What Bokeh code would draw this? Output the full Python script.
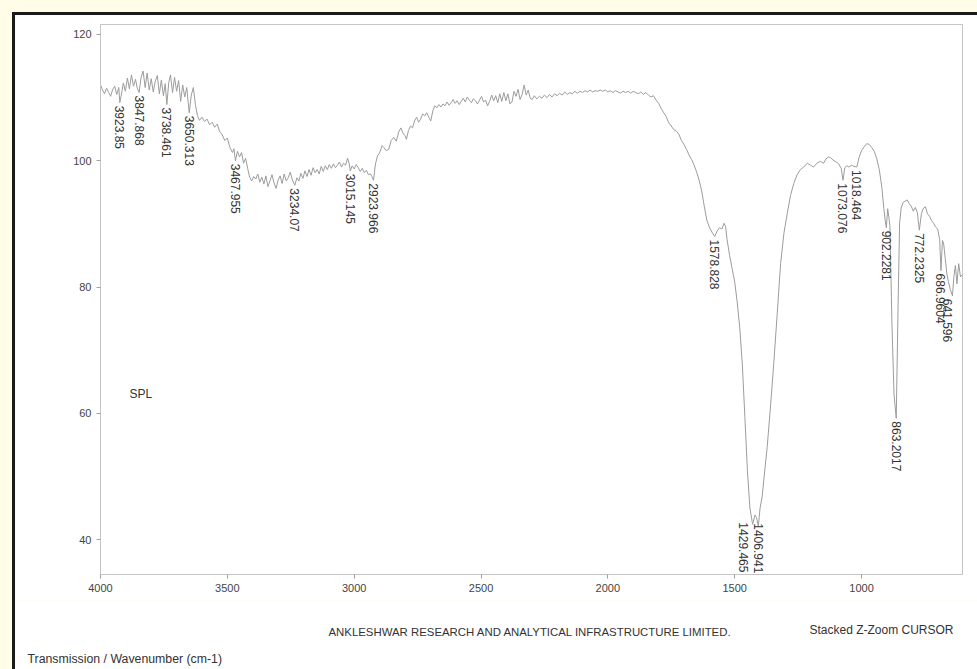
import math
from bokeh.plotting import figure
from bokeh.layouts import column
from bokeh.models import Range1d, FixedTicker, Label, ColumnDataSource
from bokeh.embed import file_html
from bokeh.resources import INLINE
from bokeh.core.properties import value

# ---------------- data ----------------
wavenumber = [
    4000, 3992, 3984, 3976, 3968, 3960, 3952, 3944, 3936, 3928, 3923.85, 3918, 3910, 3902, 3894,
    3886, 3878, 3870, 3862, 3855, 3847.868, 3840, 3832, 3824, 3816, 3808, 3800, 3792, 3784, 3776,
    3768, 3760, 3752, 3745, 3738.461, 3731, 3724, 3716, 3708, 3700, 3692, 3684, 3676, 3668, 3660,
    3650.313, 3642, 3634, 3626, 3618, 3610, 3600, 3590, 3580, 3570, 3560, 3550, 3540, 3530, 3520,
    3510, 3500, 3490, 3480, 3474, 3467.955, 3460, 3452, 3444, 3436, 3428, 3420, 3412, 3404, 3396,
    3388, 3380, 3372, 3364, 3356, 3348, 3340, 3332, 3324, 3316, 3308, 3300, 3292, 3284, 3276,
    3268, 3260, 3252, 3244, 3234.07, 3226, 3218, 3210, 3202, 3194, 3186, 3178, 3170, 3162, 3154,
    3146, 3138, 3130, 3122, 3114, 3106, 3098, 3090, 3082, 3074, 3066, 3058, 3050, 3042, 3034,
    3026, 3020, 3015.145, 3008, 3000, 2992, 2984, 2976, 2968, 2960, 2952, 2944, 2936, 2930, 2923.966,
    2916, 2908, 2900, 2890, 2883, 2874, 2864, 2854, 2844, 2834, 2824, 2816, 2808, 2800, 2794,
    2786, 2778, 2770, 2762, 2754, 2746, 2738, 2730, 2722, 2714, 2706, 2698, 2690, 2682, 2674,
    2666, 2658, 2650, 2642, 2634, 2626, 2618, 2610, 2602, 2594, 2586, 2578, 2570, 2562, 2554,
    2546, 2538, 2530, 2522, 2514, 2506, 2498, 2490, 2482, 2474, 2466, 2458, 2450, 2442, 2434,
    2426, 2418, 2410, 2402, 2394, 2386, 2378, 2370, 2362, 2354, 2346, 2338, 2330, 2322, 2314,
    2306, 2298, 2290, 2280, 2270, 2260, 2250, 2240, 2230, 2220, 2210, 2200, 2190, 2180, 2170,
    2160, 2150, 2140, 2130, 2120, 2110, 2100, 2090, 2080, 2070, 2060, 2050, 2040, 2030, 2020,
    2010, 2000, 1990, 1980, 1970, 1960, 1950, 1940, 1930, 1920, 1910, 1900, 1890, 1880, 1870,
    1860, 1850, 1840, 1830, 1820, 1810, 1800, 1790, 1780, 1770, 1760, 1750, 1740, 1730, 1720,
    1710, 1700, 1690, 1680, 1670, 1660, 1650, 1640, 1630, 1620, 1610, 1600, 1590, 1578.828, 1570,
    1560, 1550, 1542, 1536, 1530, 1520, 1510, 1500, 1490, 1480, 1470, 1460, 1450, 1440, 1429.465,
    1420, 1414, 1406.941, 1400, 1392, 1380, 1372, 1360, 1346, 1332, 1319, 1306, 1293, 1280, 1267,
    1254, 1241, 1228, 1214, 1202, 1189, 1176, 1162, 1150, 1140, 1130, 1122, 1112, 1100, 1090,
    1080, 1073.076, 1066, 1058, 1050, 1040, 1030, 1018.464, 1010, 1000, 990, 980, 970, 960, 950,
    940, 930, 920, 912, 906, 902.2281, 897, 892, 888, 880, 872, 863.2017, 856, 850, 844,
    836, 828, 820, 812, 804, 796, 788, 780, 772.2325, 764, 756, 748, 740, 732, 724,
    716, 708, 700, 692, 686.9604, 681, 676, 670, 664, 658, 650, 641.596, 636, 630, 624,
    617, 610, 602,
]
transmission = [
    112.0, 111.2, 110.6, 111.5, 110.8, 110.2, 111.3, 111.8, 110.5, 111.6, 109.2, 110.4, 112.3, 111.0, 113.1,
    111.4, 113.6, 111.8, 112.9, 111.5, 110.8, 113.2, 114.2, 111.6, 113.9, 111.2, 113.0, 110.9, 112.6, 113.5,
    110.6, 112.8, 110.3, 112.2, 108.9, 112.4, 113.6, 110.8, 113.2, 111.0, 112.7, 109.4, 112.0, 110.1, 111.6,
    107.6, 110.4, 111.6, 108.9, 107.2, 106.4, 106.9, 106.2, 106.6, 105.7, 106.1, 105.3, 105.8, 104.6, 104.1,
    103.2, 103.6, 102.1, 101.3, 101.9, 100.0, 101.5, 100.6, 101.3, 99.6, 100.4, 98.8, 97.4, 96.8, 97.5,
    97.1, 97.9, 96.6, 97.4, 96.3, 97.6, 95.9, 96.8, 97.8, 96.5, 95.6, 96.9, 97.6, 96.4, 97.9,
    96.8, 97.3, 98.2, 97.0, 96.1, 97.3, 96.8, 98.0, 97.2, 98.4, 97.5, 98.6, 97.7, 98.9, 98.1,
    98.6, 97.9, 99.1, 98.3, 99.2, 98.6, 99.4, 98.8, 99.5, 98.9, 99.3, 99.8, 99.0, 99.6, 99.3,
    100.4, 99.6, 98.4, 99.2, 98.7, 99.4, 98.9, 98.3, 98.8, 98.1, 98.5, 97.8, 97.9, 97.5, 96.9,
    99.5, 100.8, 101.2, 102.4, 102.1, 101.6, 101.8, 103.2, 103.7, 103.1, 104.6, 105.2, 104.4, 104.0, 103.4,
    104.8, 105.5, 105.2, 106.3, 106.9, 106.1, 106.6, 107.4, 107.1, 107.6, 106.9, 106.3, 107.9, 108.7, 108.4,
    108.9, 108.5, 109.0, 108.7, 109.3, 108.8, 109.2, 109.7, 109.1, 109.5, 108.9, 109.4, 109.9, 109.3, 110.1,
    109.6, 109.2, 109.8, 109.5, 109.0, 109.6, 110.2, 109.3, 109.6, 108.7, 109.4, 110.4, 109.5, 110.3, 109.2,
    110.6, 109.4, 110.8, 109.5, 110.6, 109.0, 109.3, 111.0, 110.2, 111.3, 109.7, 110.5, 112.0, 110.4, 111.2,
    109.9, 109.7, 110.3, 109.8, 110.2, 109.9, 110.4, 110.0, 110.5, 110.1, 110.6, 110.3, 110.7, 110.4, 110.9,
    110.5, 110.8, 110.6, 111.0, 110.7, 111.0, 110.8, 111.1, 110.9, 111.2, 110.9, 111.1, 111.0, 111.2, 111.0,
    111.2, 110.9, 111.1, 110.8, 111.1, 110.9, 110.7, 111.0, 110.8, 111.0, 110.7, 111.0, 110.8, 110.6, 110.9,
    110.5, 110.8, 110.4, 110.1, 110.3, 109.6, 109.1, 108.3, 107.6, 107.0, 106.0, 105.5, 104.9, 104.7, 104.2,
    103.2, 102.6, 101.8, 100.9, 100.2, 99.3, 98.2, 96.9, 95.2, 92.8, 90.6, 89.5, 88.7, 88.0, 88.8,
    89.4, 89.2, 90.1, 89.6, 87.5, 85.0, 82.9, 80.8, 77.6, 73.5, 67.8, 59.5, 51.0, 45.0, 42.4,
    43.9, 43.5, 42.1, 45.0, 46.7, 51.5, 54.6, 60.5, 67.9, 76.0, 83.7, 88.5, 91.6, 94.5, 96.4,
    97.8, 98.6, 99.0, 99.6, 99.3, 99.0, 99.6, 99.9, 99.6, 100.3, 100.6, 100.5, 100.1, 99.8, 99.5,
    98.8, 96.9, 98.9, 99.2, 99.0, 99.3, 99.1, 99.0, 100.5, 101.6, 102.2, 102.7, 102.6, 102.1, 101.5,
    100.3, 98.6, 95.8, 92.4, 90.3, 89.4, 92.4, 91.0, 89.6, 74.0, 63.0, 59.2, 77.0, 90.0, 92.5,
    93.4, 93.6, 93.8, 93.2, 92.8, 92.0, 92.6, 91.8, 89.0, 91.6, 92.5, 92.7, 91.6, 91.2, 90.5,
    90.1, 89.5, 89.2, 87.5, 82.6, 87.4, 86.8, 84.5, 82.2, 80.9, 79.6, 78.6, 81.6, 83.4, 80.5,
    83.7, 81.6, 82.0,
]

peak_wavenumbers = [3923.85, 3847.868, 3738.461, 3650.313, 3467.955, 3234.07, 3015.145, 2923.966,
                    1578.828, 1429.465, 1406.941, 1073.076, 1018.464, 902.2281, 863.2017,
                    772.2325, 686.9604, 641.596]
peak_texts = ["3923.85", "3847.868", "3738.461", "3650.313", "3467.955", "3234.07", "3015.145",
              "2923.966", "1578.828", "1429.465", "1406.941", "1073.076", "1018.464", "902.2281",
              "863.2017", "772.2325", "686.9604", "641.596"]

x_ticks = [4000, 3500, 3000, 2500, 2000, 1500, 1000]
y_ticks = [40, 60, 80, 100, 120]

company_text = "ANKLESHWAR RESEARCH AND ANALYTICAL INFRASTRUCTURE LIMITED."
mode_text = "Stacked Z-Zoom CURSOR"
axis_text = "Transmission / Wavenumber (cm-1)"
sample_text = "SPL"

# ---------------- styling ----------------
FONT = "Liberation Sans"
TEXT_COLOR = "#333333"

# label placement (pixels) used by the instrument software to avoid overlaps
label_shift = [0] * len(peak_wavenumbers)
label_drop = [3] * len(peak_wavenumbers)
label_shift[peak_texts.index("1429.465")] = -9
label_shift[peak_texts.index("641.596")] = -5
label_drop[peak_texts.index("1429.465")] = -2
label_drop[peak_texts.index("1406.941")] = -3

# ---------------- main spectrum figure ----------------
p = figure(
    width=962, height=585,
    output_backend="svg", toolbar_location=None,
    x_range=Range1d(4000, 602), y_range=Range1d(34.46, 121.58),
    min_border_left=85, min_border_right=15, min_border_top=9, min_border_bottom=26,
)
p.background_fill_color = "white"
p.border_fill_color = "white"
p.outline_line_color = "#c4c4c4"
p.outline_line_width = 1
p.grid.visible = False

p.line(wavenumber, transmission, line_color="#9c9c9c", line_width=1)

peak_T = [transmission[wavenumber.index(w)] for w in peak_wavenumbers]
src = ColumnDataSource(dict(x=peak_wavenumbers, y=peak_T, text=peak_texts,
                            dx=label_shift, dy=label_drop))
p.text(x="x", y="y", text="text", source=src, angle=-math.pi / 2,
       x_offset="dx", y_offset="dy", text_align="left", text_baseline="middle",
       text_font=value(FONT), text_font_size="12px", text_color=TEXT_COLOR)

p.xaxis.ticker = FixedTicker(ticks=x_ticks)
p.yaxis.ticker = FixedTicker(ticks=y_ticks)
for ax in (p.xaxis[0], p.yaxis[0]):
    ax.axis_line_color = "#c4c4c4"
    ax.major_tick_line_color = "#a0a0a0"
    ax.major_tick_out = 4
    ax.major_tick_in = 0
    ax.minor_tick_line_color = None
    ax.major_label_text_font = FONT
    ax.major_label_text_font_size = "11px"
    ax.major_label_text_color = "#444444"
    ax.major_label_standoff = 5

p.add_layout(Label(x=29, y=181, x_units="screen", y_units="screen", text=sample_text,
                   text_font=FONT, text_font_size="12px", text_color=TEXT_COLOR,
                   text_align="left", text_baseline="middle"))

# ---------------- footer strip with the report texts ----------------
footer = figure(
    width=962, height=69,
    output_backend="svg", toolbar_location=None,
    x_range=Range1d(0, 1), y_range=Range1d(0, 1),
    x_axis_location=None, y_axis_location=None,
    min_border=0,
)
footer.background_fill_color = "white"
footer.border_fill_color = "white"
footer.outline_line_color = None
footer.grid.visible = False

aligned = True
for fig in (p, footer):
    if "frame_align" in fig.properties():
        fig.frame_align = False
        aligned = False

# footer label positions in pixels from the footer frame's bottom-left corner
shift = 85 if aligned else 0
for txt, sx, sy, size in ((company_text, 313, 38, "11.4px"), (mode_text, 794, 40, "12px"),
                          (axis_text, 12, 11, "12.3px")):
    footer.add_layout(Label(x=sx - shift, y=sy, x_units="screen", y_units="screen", text=txt,
                            text_font=FONT, text_font_size=size, text_color=TEXT_COLOR,
                            text_align="left", text_baseline="middle"))

page = column(p, footer, spacing=0)
page.styles = {
    "margin-left": "12px",
    "margin-top": "12px",
    "border-left": "3px solid #1a1a1a",
    "border-top": "3px solid #1a1a1a",
}

html = file_html(page, INLINE)
html = html.replace("</head>", "<style>html, body { background: #FFFCE8; }</style>\n</head>", 1)
open("out.html", "w").write(html)
